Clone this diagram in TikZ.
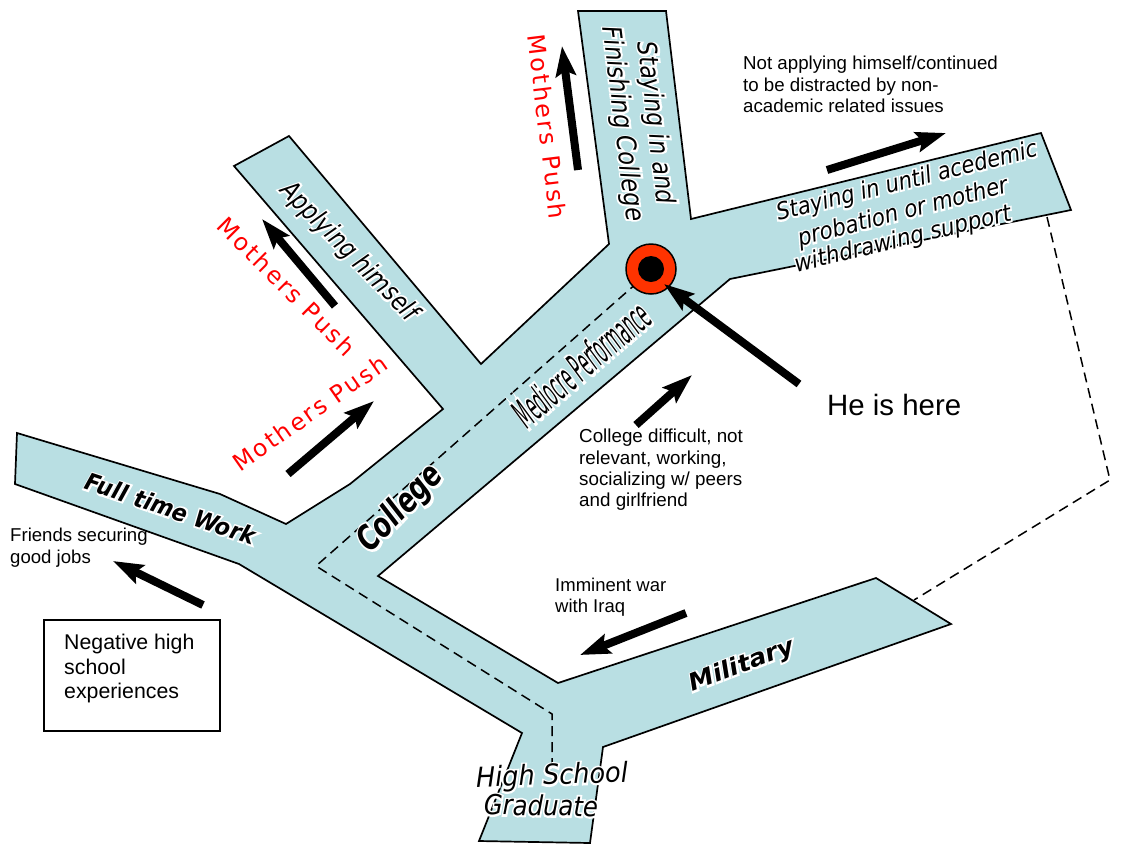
\documentclass[tikz,border=0pt]{standalone}
\usepackage{fontspec}
\usepackage{graphicx}
\setmainfont{Liberation Sans}
\newfontfamily\roadfont{DejaVu Sans}
\newfontfamily\halofont[FakeBold=14]{DejaVu Sans}
\newfontfamily\pushfont[LetterSpace=10]{DejaVu Sans}
\usetikzlibrary{arrows.meta}
\definecolor{road}{HTML}{B9DFE3}
\definecolor{hot}{HTML}{FF3300}
\newcommand{\roadlabel}[7][black]{%
  \node[rotate=#4,inner sep=0pt,text=#1] (#2) at (#3)
    {\resizebox{#5pt}{#6pt}{\rlap{\color{white}\halofont\itshape #7}\roadfont\itshape #7\vphantom{Ag}}};}
\newcommand{\redlabel}[6]{%
  \node[rotate=#3,inner sep=0pt,text=red] (#1) at (#2)
    {\resizebox{#4pt}{#5pt}{\pushfont #6\vphantom{Ag}}};}
\tikzset{
  x=1pt,y=-1pt,
  roadshape/.style={draw=black,fill=road,line width=1.7pt,line join=miter},
  push/.style={line width=8pt,-{Stealth[length=30pt,width=20pt,inset=5pt]}},
  note/.style 2 args={align=left,anchor=north west,inner sep=0pt,font=\fontsize{#1}{#2}\selectfont},
  route/.style={line width=1.5pt,dash pattern=on 10pt off 6pt},
}
\begin{document}
\begin{tikzpicture}
\useasboundingbox (0,0) rectangle (1121,844);
% road
\draw[roadshape] (578,11) -- (666,11) -- (691,219) -- (1041,133) -- (1071,210) -- (730,279)
  -- (378,576) -- (558,683) -- (876,578) -- (951,624) -- (603,747) -- (590,843) -- (479,841)
  -- (522,733) -- (239,564) -- (15,484) -- (17,433) -- (220,494) -- (286,524) -- (350,484)
  -- (443,409) -- (234,166) -- (289,136) -- (481,364) -- (609,244) -- cycle;
% routes
\coordinate (r1) at (638,282); \coordinate (r2) at (316,566); \coordinate (r3) at (552,714); \coordinate (r4) at (552,770);
\draw[route] (r1) -- (r2) -- (r3) -- (r4);
\coordinate (m1) at (1047,217); \coordinate (m2) at (1110,480); \coordinate (m3) at (914,600);
\draw[route] (m1) -- (m2) -- (m3);
% marker
\node[circle,draw=black,fill=hot,line width=1.5pt,minimum size=50pt,inner sep=0pt] (here) at (651,269) {};
\node[circle,fill=black,minimum size=26pt,inner sep=0pt] (dot) at (651,269) {};
% arrows
\coordinate (a1s) at (578,170); \coordinate (a1e) at (562,46);
\coordinate (a2s) at (827,170); \coordinate (a2e) at (946,133);
\coordinate (a3s) at (799,384); \coordinate (a3e) at (664,284);
\coordinate (a4s) at (636,425); \coordinate (a4e) at (692,375);
\coordinate (a5s) at (686,613); \coordinate (a5e) at (580,655);
\coordinate (a6s) at (203,605); \coordinate (a6e) at (113,561);
\coordinate (a7s) at (288,474); \coordinate (a7e) at (374,401);
\coordinate (a8s) at (335,306); \coordinate (a8e) at (262,219);
\foreach \i in {1,...,8} \draw[push] (a\i s) -- (a\i e);
% road labels
\roadlabel{l1}{655,123}{-83}{163}{20}{Staying in and}
\roadlabel{l2}{622,124}{-83}{196}{20}{Finishing College}
\roadlabel{l3}{907,182}{14}{268}{18}{Staying in until acedemic}
\roadlabel{l4}{903,213}{14.5}{216}{18}{probation or mother}
\roadlabel{l5}{903,240}{13.5}{222}{18}{withdrawing support}
\roadlabel{l6}{349,252}{-45.5}{184}{20}{Applying himself}
\roadlabel{l7}{170,511}{-18.5}{178}{18}{\bfseries Full time Work}
\roadlabel{l8}{401,509}{46}{106}{26}{\bfseries College}
\roadlabel{l9}{584,367}{40.5}{166}{30}{Mediocre Performance}
\roadlabel{l10}{742,666}{21}{110}{18}{\bfseries Military}
\roadlabel{l11}{552,777}{2}{152}{21}{High School}
\roadlabel{l12}{541,808}{-1}{114}{21}{Graduate}
% red labels
\redlabel{p1}{545,127}{-83}{186}{18}{Mothers Push}
\redlabel{p2}{285,288}{-45}{184}{18}{Mothers Push}
\redlabel{p3}{311,415}{35}{182}{18}{Mothers Push}
% notes
\node[note={18.7}{21.5}] (n1) at (743,56) {Not applying himself/continued\\to be distracted by non-\\academic related issues};
\node[note={29.4}{34},anchor=west] (n2) at (827,405) {He is here};
\node[note={18.8}{21.3}] (n3) at (579,429) {College difficult, not\\relevant, working,\\socializing w/ peers\\and girlfriend};
\node[note={18.5}{21}] (n4) at (555,578) {Imminent war\\with Iraq};
\node[note={18.6}{22}] (n5) at (10,528) {Friends securing\\good jobs};
\node[draw=black,line width=1.7pt,minimum width=176pt,minimum height=111pt,anchor=north west,inner sep=0pt] (box) at (43,619) {};
\node[note={21.3}{24.5}] (n6) at (64,634) {Negative high\\school\\experiences};
\end{tikzpicture}
\end{document}
